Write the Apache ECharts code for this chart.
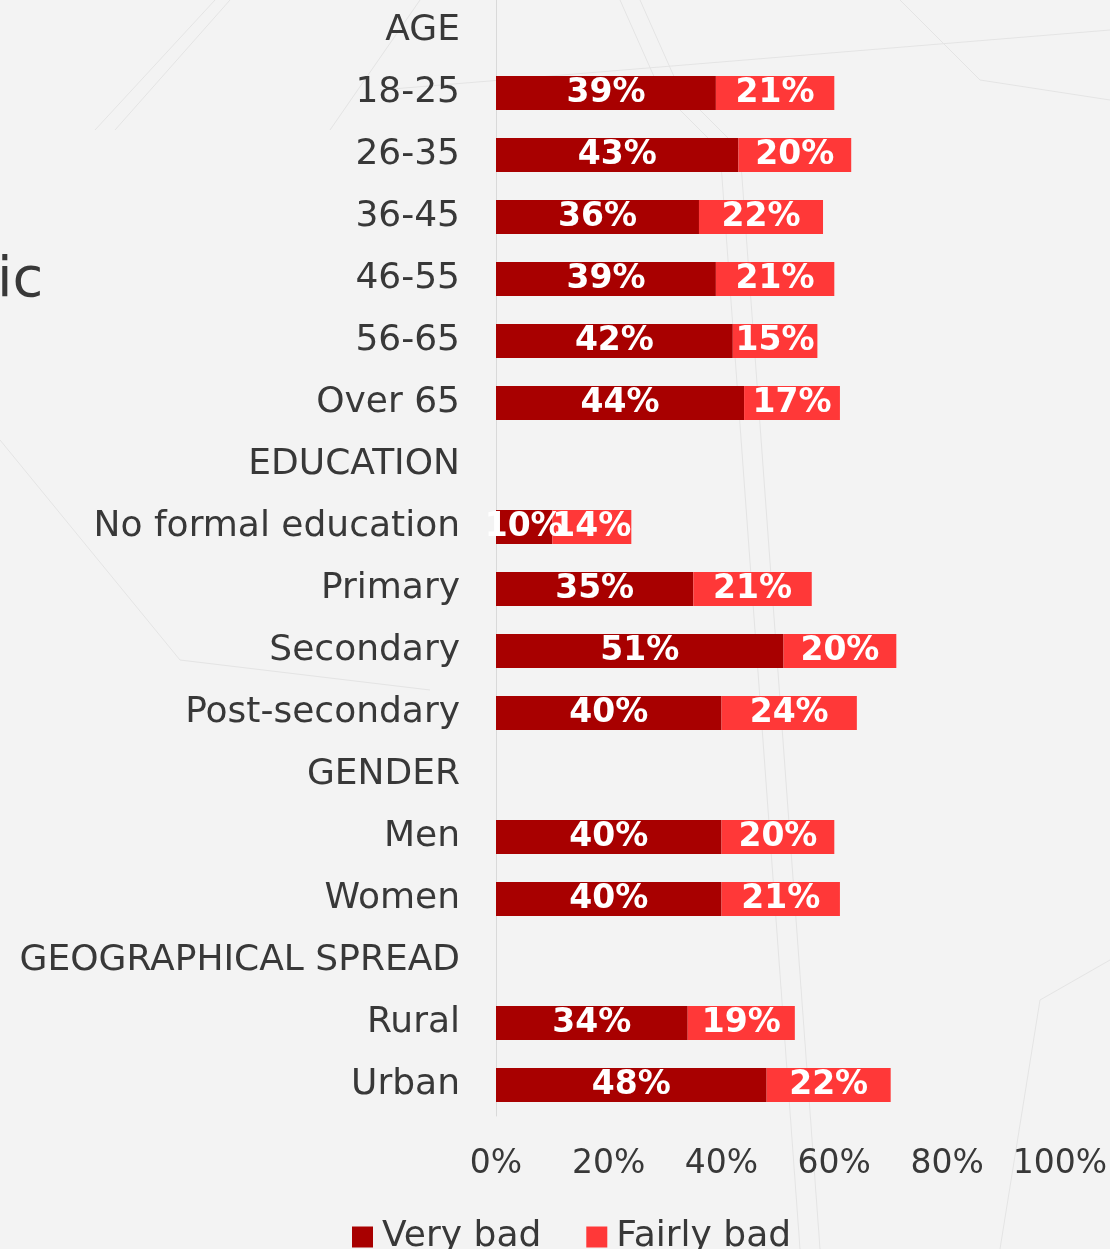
<!DOCTYPE html>
<html>
<head>
    <meta charset="utf-8">
    <title>Perception by group</title>
    <script src="https://cdn.jsdelivr.net/npm/echarts@6/dist/echarts.min.js"></script>
    <style>
      html, body { margin: 0; padding: 0; background: #f3f3f3; }
    </style>
</head>
<body>
    <div id="main" style="width: 1110px;height:1249px;"></div>
    <script type="text/javascript">
    var myChart = echarts.init(document.getElementById('main'));

    // Data
    var groups = ['AGE', '18-25', '26-35', '36-45', '46-55', '56-65', 'Over 65',
      'EDUCATION', 'No formal education', 'Primary', 'Secondary', 'Post-secondary',
      'GENDER', 'Men', 'Women',
      'GEOGRAPHICAL SPREAD', 'Rural', 'Urban'];
    var veryBad = [null, 39, 43, 36, 39, 42, 44, null, 10, 35, 51, 40, null, 40, 40, null, 34, 48];
    var fairlyBad = [null, 21, 20, 22, 21, 15, 17, null, 14, 21, 20, 24, null, 20, 21, null, 19, 22];
    var seriesNames = ['Very bad', 'Fairly bad'];
    var xTicks = [0, 20, 40, 60, 80, 100];

    var darkRed = '#a80000';
    var lightRed = '#ff3838';
    var textColor = '#383838';
    var font = 'DejaVu Sans';

    // faint background decoration
    var decoLine = function (pts) {
      return {
        type: 'polyline',
        silent: true,
        z: -10,
        shape: { points: pts },
        style: { stroke: '#e4e4e4', lineWidth: 1, fill: null }
      };
    };

    var barLabel = {
      show: true,
      position: 'inside',
      formatter: '{c}%',
      color: '#fff',
      fontFamily: font,
      fontWeight: 'bold',
      fontSize: 33
    };

    var option = {
      backgroundColor: '#f3f3f3',
      animation: false,
      graphic: [
        decoLine([[95, 130], [215, 0]]),
        decoLine([[115, 130], [230, 0]]),
        decoLine([[330, 130], [420, 0]]),
        decoLine([[380, 90], [1110, 30]]),
        decoLine([[0, 440], [180, 660], [430, 690]]),
        decoLine([[620, 0], [660, 90], [720, 150], [800, 1249]]),
        decoLine([[640, 0], [680, 90], [740, 150], [820, 1249]]),
        decoLine([[900, 0], [980, 80], [1110, 100]]),
        decoLine([[1000, 1249], [1040, 1000], [1110, 960]]),
        {
          type: 'text',
          left: -3,
          top: 253,
          silent: true,
          style: {
            text: 'ic',
            font: '56px "DejaVu Sans"',
            fill: textColor
          }
        }
      ],
      legend: {
        left: 347,
        top: 1214,
        icon: 'rect',
        itemWidth: 21,
        itemHeight: 21,
        itemGap: 45,
        data: seriesNames,
        textStyle: {
          color: textColor,
          fontFamily: font,
          fontSize: 36,
          padding: [0, 0, 0, 4]
        }
      },
      grid: {
        left: 496,
        right: 50,
        top: -5,
        height: 1121,
        containLabel: false
      },
      xAxis: {
        type: 'value',
        min: 0,
        max: 100,
        interval: 20,
        axisLine: { show: false },
        axisTick: { show: false },
        splitLine: { show: false },
        axisLabel: {
          margin: 32,
          color: textColor,
          fontFamily: font,
          fontSize: 33,
          formatter: function (v) {
            return xTicks.indexOf(v) >= 0 ? v + '%' : '';
          }
        }
      },
      yAxis: {
        type: 'category',
        inverse: true,
        data: groups,
        axisLine: { show: true, lineStyle: { color: '#d9d9d9', width: 1 } },
        axisTick: { show: false },
        axisLabel: {
          margin: 36,
          color: textColor,
          fontFamily: font,
          fontSize: 36
        }
      },
      series: [{
        name: seriesNames[0],
        type: 'bar',
        stack: 'total',
        barWidth: 34,
        itemStyle: { color: darkRed },
        label: barLabel,
        data: veryBad
      }, {
        name: seriesNames[1],
        type: 'bar',
        stack: 'total',
        barWidth: 34,
        itemStyle: { color: lightRed },
        label: barLabel,
        data: fairlyBad
      }]
    };

    myChart.setOption(option);
    </script>
</body>
</html>
